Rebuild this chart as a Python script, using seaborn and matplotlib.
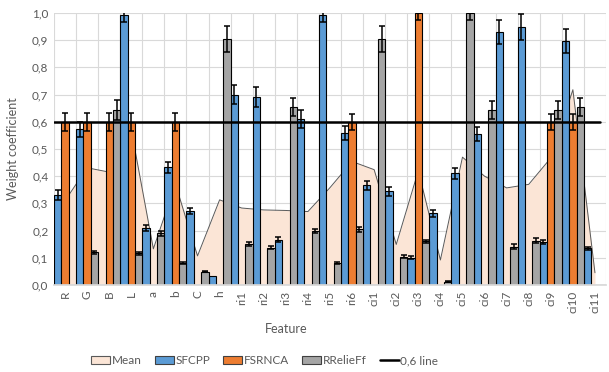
import pandas as pd
import matplotlib
matplotlib.use("Agg")
import matplotlib.pyplot as plt
from matplotlib.patches import Patch
from matplotlib.lines import Line2D
from matplotlib.ticker import FuncFormatter, MultipleLocator
import seaborn as sns

features = ['R', 'G', 'B', 'L', 'a', 'b', 'C', 'h',
            'ri1', 'ri2', 'ri3', 'ri4', 'ri5', 'ri6',
            'ci1', 'ci2', 'ci3', 'ci4', 'ci5', 'ci6', 'ci7', 'ci8', 'ci9', 'ci10', 'ci11']

sfcpp = [0.331, 0.573, 0.0, 0.994, 0.209, 0.432, 0.272, 0.033,
         0.700, 0.691, 0.166, 0.610, 0.994, 0.558,
         0.366, 0.344, 0.100, 0.264, 0.411, 0.555, 0.930, 0.948, 0.157, 0.897, 0.135]
sfcpp_err = [0.018, 0.028, 0.0, 0.028, 0.010, 0.022, 0.012, 0.0,
             0.035, 0.036, 0.009, 0.034, 0.028, 0.025,
             0.017, 0.018, 0.006, 0.013, 0.020, 0.025, 0.045, 0.047, 0.008, 0.045, 0.006]

fsrnca = [0.6, 0.6, 0.6, 0.6, 0.0, 0.6, 0.0, 0.0,
          0.0, 0.0, 0.0, 0.0, 0.0, 0.6,
          0.0, 0.0, 1.0, 0.0, 0.0, 0.0, 0.0, 0.0, 0.6, 0.6, 0.0]
fsrnca_err = [0.033, 0.033, 0.033, 0.033, 0.0, 0.033, 0.0, 0.0,
              0.0, 0.0, 0.0, 0.0, 0.0, 0.030,
              0.0, 0.0, 0.025, 0.0, 0.0, 0.0, 0.0, 0.0, 0.030, 0.030, 0.0]

rrelieff = [0.0, 0.120, 0.644, 0.117, 0.190, 0.082, 0.049, 0.906,
            0.150, 0.137, 0.656, 0.199, 0.080, 0.205,
            0.906, 0.104, 0.160, 0.012, 1.0, 0.644, 0.141, 0.163, 0.644, 0.656, 0.0]
rrelieff_err = [0.0, 0.005, 0.036, 0.006, 0.010, 0.004, 0.003, 0.048,
                0.008, 0.006, 0.033, 0.008, 0.004, 0.010,
                0.048, 0.005, 0.007, 0.002, 0.027, 0.033, 0.008, 0.008, 0.033, 0.033, 0.0]

mean_vals = [0.310, 0.431, 0.415, 0.570, 0.133, 0.371, 0.107, 0.313,
             0.283, 0.276, 0.274, 0.270, 0.358, 0.454,
             0.424, 0.149, 0.420, 0.092, 0.470, 0.400, 0.357, 0.370, 0.467, 0.718, 0.045]

methods = ['SFCPP', 'FSRNCA', 'RRelieFf']
colors = {'SFCPP': '#5B9BD5', 'FSRNCA': '#ED7D31', 'RRelieFf': '#A5A5A5'}

df = pd.DataFrame({
    'Feature': features * 3,
    'Method': [m for m in methods for _ in features],
    'Value': sfcpp + fsrnca + rrelieff,
    'Err': sfcpp_err + fsrnca_err + rrelieff_err,
})

sns.set_theme(style='white')
plt.rcParams['font.family'] = ['Lato', 'DejaVu Sans']
text_c = '#595959'

fig = plt.figure(figsize=(6.09, 3.72), dpi=100)
ax = fig.add_axes([54 / 609, 1 - 285 / 372, 552 / 609, 272 / 372])

# mean area behind the bars
xs = list(range(len(features)))
ax.fill_between(xs, mean_vals, 0, color='#FBE5D6', zorder=1, linewidth=0)
ax.plot(xs, mean_vals, color='#595959', lw=0.7, zorder=1.5)

sns.barplot(data=df, x='Feature', y='Value', hue='Method', hue_order=methods,
            palette=colors, width=1.0, errorbar=None, edgecolor='black',
            linewidth=0.8, saturation=1, ax=ax, zorder=2, legend=False)

for cont, m in zip(ax.containers, methods):
    errs = df.loc[df['Method'] == m, 'Err'].tolist()
    for bar, e in zip(cont, errs):
        if e <= 0:
            continue
        cx = bar.get_x() + bar.get_width() / 2
        ax.errorbar(cx, bar.get_height(), yerr=e, color='black', lw=1.1,
                    capsize=2.5, capthick=1.1, zorder=3)

ax.axhline(0.6, xmin=0, xmax=0.99, color='black', lw=1.8, zorder=4)

ax.set_xlim(-0.5, len(features) - 0.5)
ax.set_ylim(0, 1.0)
ax.yaxis.set_major_locator(MultipleLocator(0.1))
ax.yaxis.set_major_formatter(FuncFormatter(lambda v, p: f'{v:.1f}'.replace('.', ',')))
ax.set_xticks(xs)
ax.set_xticklabels(features, rotation=90, fontsize=8.5, color=text_c)
ax.xaxis.set_minor_locator(MultipleLocator(1, offset=0.5))
ax.tick_params(axis='y', labelsize=8.5, labelcolor=text_c, length=0, pad=4)
ax.tick_params(axis='x', which='both', length=0, pad=4)

ax.grid(axis='y', which='major', color='#D9D9D9', lw=0.8, zorder=0)
ax.grid(axis='x', which='minor', color='#D9D9D9', lw=0.8, zorder=0)
ax.set_axisbelow(True)
for s in ['top', 'right', 'left']:
    ax.spines[s].set_visible(False)
ax.spines['bottom'].set_color('#D9D9D9')

ax.set_xlabel('Feature', fontsize=9, color=text_c)
ax.xaxis.set_label_coords(0.42, -0.14)
ax.set_ylabel('Weight coefficient', fontsize=9, color=text_c)
ax.yaxis.set_label_coords(-0.063, 0.5)

handles = [
    Patch(facecolor='#FBE5D6', edgecolor='#595959', lw=0.8, label='Mean'),
    Patch(facecolor=colors['SFCPP'], edgecolor='#404040', lw=0.8, label='SFCPP'),
    Patch(facecolor=colors['FSRNCA'], edgecolor='#404040', lw=0.8, label='FSRNCA'),
    Patch(facecolor=colors['RRelieFf'], edgecolor='#404040', lw=0.8, label='RRelieFf'),
    Line2D([0], [0], color='black', lw=1.8, label='0,6 line'),
]
fig.legend(handles=handles, loc='center', bbox_to_anchor=(0.435, 0.03), ncol=5,
           frameon=False, fontsize=8.5, handlelength=1.6, handleheight=0.6,
           handletextpad=0.15, columnspacing=1.1, labelcolor=text_c)

fig.savefig('out.png', dpi=100)
